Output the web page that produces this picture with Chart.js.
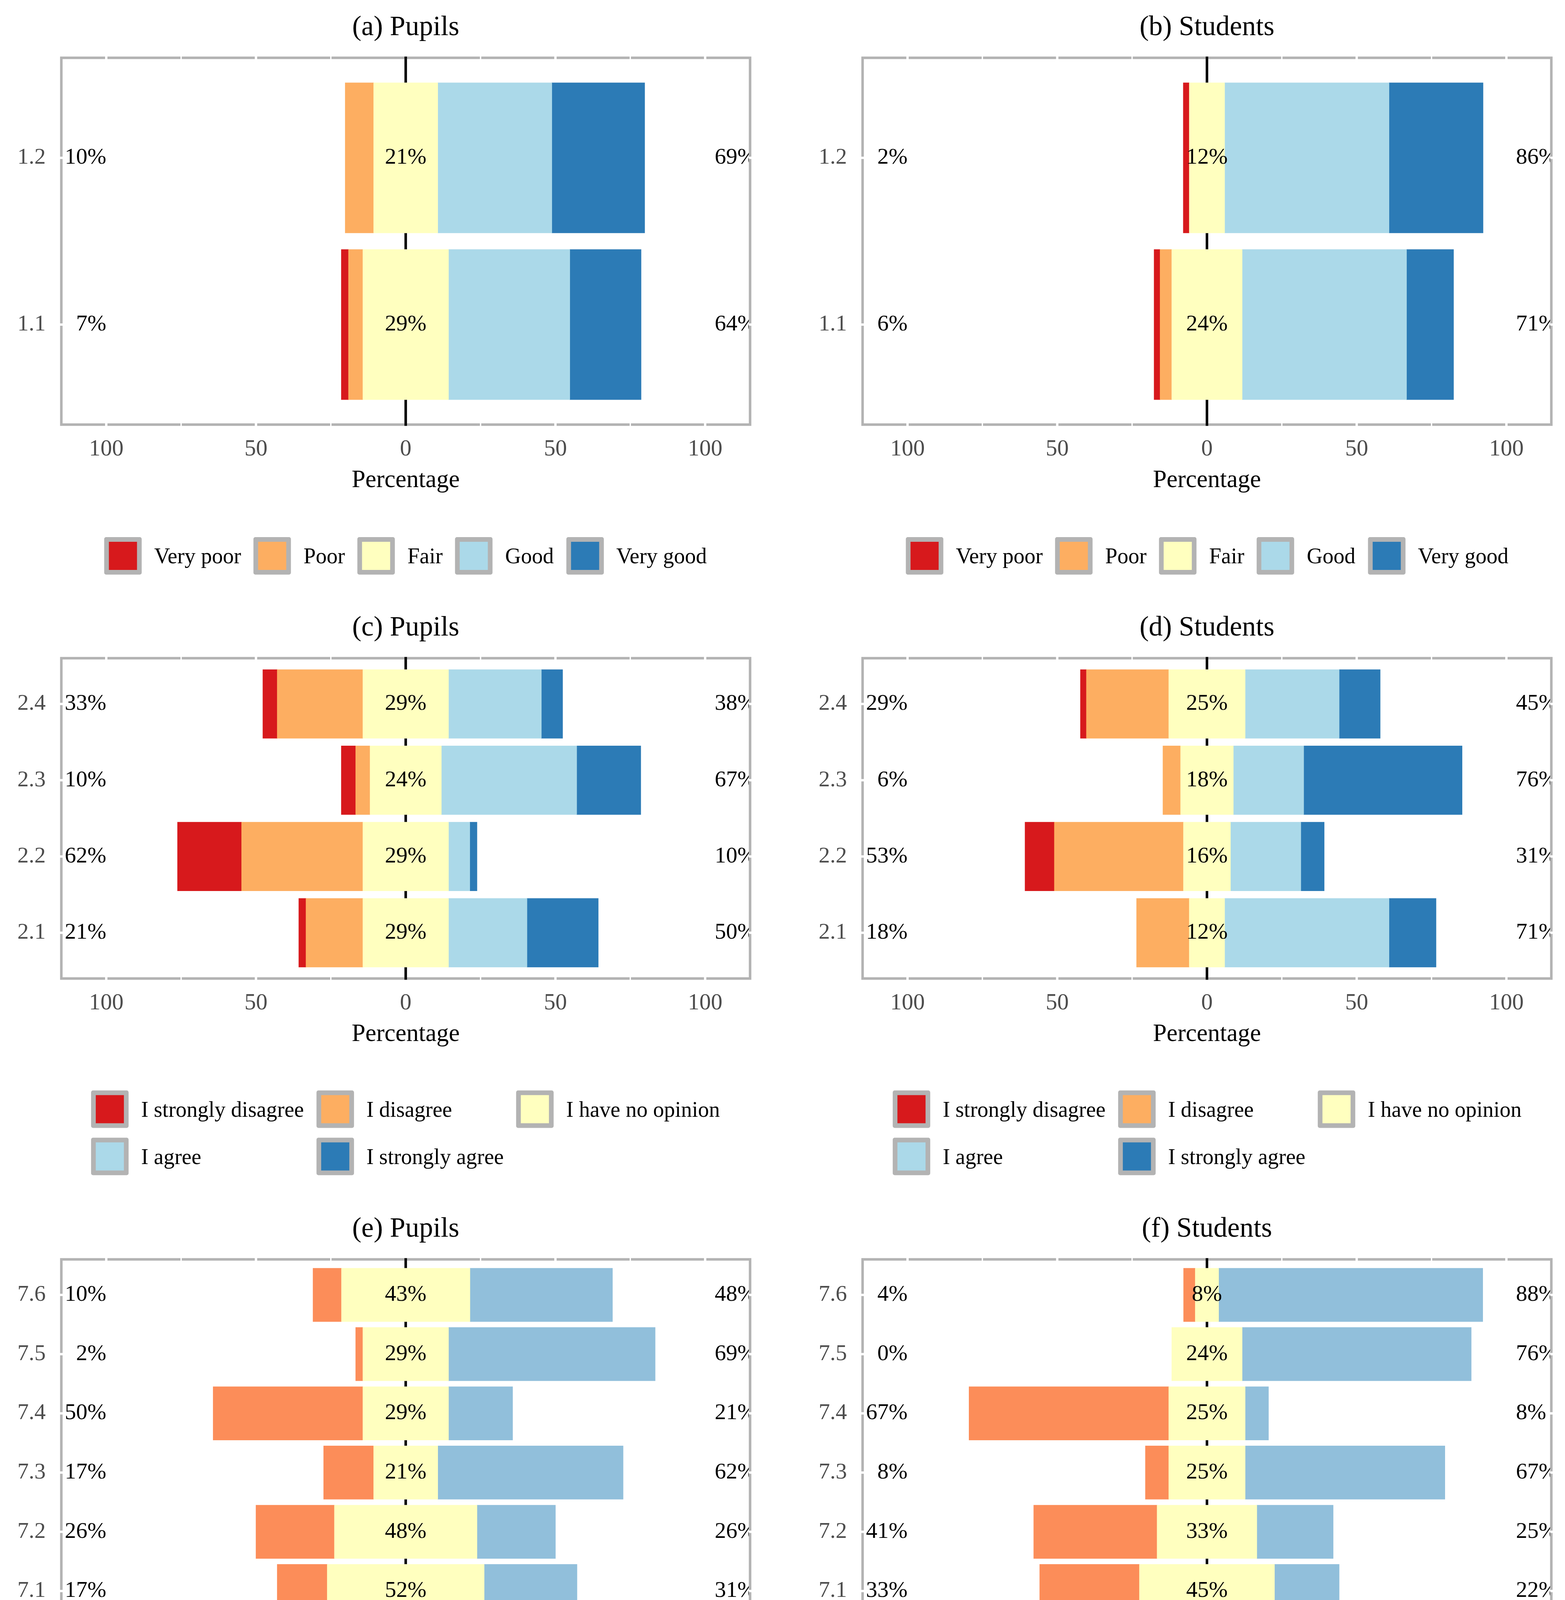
<!DOCTYPE html>
<html>
<head>
<meta charset="utf-8">
<title>Likert panels</title>
<script src="https://cdn.jsdelivr.net/npm/chart.js@4.4.1/dist/chart.umd.min.js"></script>
<style>
  html, body { margin: 0; padding: 0; background: #fff; overflow: hidden; }
  body { width: 4006px; height: 4596px; position: relative; font-family: "Liberation Serif", "Times New Roman", serif; }
  canvas { position: absolute; }
  .legend { position: absolute; transform: translate(-50%, -50%); display: grid; column-gap: 32px; row-gap: 25px; align-items: center; }
  .item { display: flex; align-items: center; white-space: nowrap; }
  .key { width: 96px; height: 96px; box-sizing: border-box; border: 12px solid #B3B3B3; border-radius: 5px; margin-right: 32px; }
  .item span { font-size: 56px; line-height: 1; color: #000; }
</style>
</head>
<body>
<script>
// ---- data (percent of respondents, categories listed bottom -> top) ----
const Q1_CATS = ['1.1', '1.2'];
const Q2_CATS = ['2.1', '2.2', '2.3', '2.4'];
const Q7_CATS = ['7.1', '7.2', '7.3', '7.4', '7.5', '7.6'];

const FIVE_RATING = ['Very poor', 'Poor', 'Fair', 'Good', 'Very good'];
const FIVE_AGREE = ['I strongly disagree', 'I disagree', 'I have no opinion', 'I agree', 'I strongly agree'];
const THREE_AGREE = ['I disagree', 'I have no opinion', 'I agree'];

const FIVE_COLORS = ['#D7191C', '#FDAE61', '#FFFFBF', '#ABD9E9', '#2C7BB6'];
const THREE_COLORS = ['#FC8D59', '#FFFFBF', '#91BFDB'];

// (a) Pupils
const A_VERY_POOR = [2.4, 0];
const A_POOR = [4.8, 9.5];
const A_FAIR = [28.6, 21.4];
const A_GOOD = [40.5, 38.1];
const A_VERY_GOOD = [23.8, 31.0];
const A_LOW = ['7%', '10%'];
const A_MID = ['29%', '21%'];
const A_HIGH = ['64%', '69%'];

// (b) Students
const B_VERY_POOR = [2.0, 2.0];
const B_POOR = [3.9, 0];
const B_FAIR = [23.5, 11.8];
const B_GOOD = [54.9, 54.9];
const B_VERY_GOOD = [15.7, 31.4];
const B_LOW = ['6%', '2%'];
const B_MID = ['24%', '12%'];
const B_HIGH = ['71%', '86%'];

// (c) Pupils
const C_STRONG_DIS = [2.4, 21.4, 4.8, 4.8];
const C_DIS = [19.0, 40.5, 4.8, 28.6];
const C_NEUTRAL = [28.6, 28.6, 23.8, 28.6];
const C_AGREE = [26.2, 7.1, 45.2, 31.0];
const C_STRONG_AGREE = [23.8, 2.4, 21.4, 7.1];
const C_LOW = ['21%', '62%', '10%', '33%'];
const C_MID = ['29%', '29%', '24%', '29%'];
const C_HIGH = ['50%', '10%', '67%', '38%'];

// (d) Students
const D_STRONG_DIS = [0, 9.8, 0, 2.0];
const D_DIS = [17.6, 43.1, 5.9, 27.5];
const D_NEUTRAL = [11.8, 15.7, 17.6, 25.5];
const D_AGREE = [54.9, 23.5, 23.5, 31.4];
const D_STRONG_AGREE = [15.7, 7.8, 52.9, 13.7];
const D_LOW = ['18%', '53%', '6%', '29%'];
const D_MID = ['12%', '16%', '18%', '25%'];
const D_HIGH = ['71%', '31%', '76%', '45%'];

// (e) Pupils
const E_DIS = [16.7, 26.2, 16.7, 50.0, 2.4, 9.5];
const E_NEUTRAL = [52.4, 47.6, 21.4, 28.6, 28.6, 42.9];
const E_AGREE = [31.0, 26.2, 61.9, 21.4, 69.0, 47.6];
const E_LOW = ['17%', '26%', '17%', '50%', '2%', '10%'];
const E_MID = ['52%', '48%', '21%', '29%', '29%', '43%'];
const E_HIGH = ['31%', '26%', '62%', '21%', '69%', '48%'];

// (f) Students
const F_DIS = [33.3, 41.2, 7.8, 66.7, 0, 3.9];
const F_NEUTRAL = [45.1, 33.3, 25.5, 25.5, 23.5, 7.8];
const F_AGREE = [21.6, 25.5, 66.7, 7.8, 76.5, 88.2];
const F_LOW = ['33%', '41%', '8%', '67%', '0%', '4%'];
const F_MID = ['45%', '33%', '25%', '25%', '24%', '8%'];
const F_HIGH = ['22%', '25%', '67%', '8%', '76%', '88%'];

const X_TICKS = [-100, -50, 0, 50, 100];
const GRID_BREAKS = [-100, -75, -50, -25, 0, 25, 50, 75, 100];

// ---- layout ----
const FONT = '"Liberation Serif", "Times New Roman", serif';
const COLS = [
  { left: 0, width: 2003, axisW: 157, padRight: 83, cx: 1038 },
  { left: 2003, width: 2003, axisW: 205, padRight: 35, cx: 3090 }
];
const ROWS = [
  { top: 0, padTop: 148, plotH: 939, legendY: 1423 },
  { top: 1540, padTop: 145, plotH: 820, legendY: 2900 },
  { top: 3080, padTop: 144, plotH: 940, legendY: 4502 }
];
const X_AXIS_H = 181;

const PANELS = [
  { title: '(a) Pupils', col: 0, row: 0, cats: Q1_CATS, series: [A_VERY_POOR, A_POOR, A_FAIR, A_GOOD, A_VERY_GOOD],
    colors: FIVE_COLORS, names: FIVE_RATING, legendCols: 5, low: A_LOW, mid: A_MID, high: A_HIGH },
  { title: '(b) Students', col: 1, row: 0, cats: Q1_CATS, series: [B_VERY_POOR, B_POOR, B_FAIR, B_GOOD, B_VERY_GOOD],
    colors: FIVE_COLORS, names: FIVE_RATING, legendCols: 5, low: B_LOW, mid: B_MID, high: B_HIGH },
  { title: '(c) Pupils', col: 0, row: 1, cats: Q2_CATS, series: [C_STRONG_DIS, C_DIS, C_NEUTRAL, C_AGREE, C_STRONG_AGREE],
    colors: FIVE_COLORS, names: FIVE_AGREE, legendCols: 3, low: C_LOW, mid: C_MID, high: C_HIGH },
  { title: '(d) Students', col: 1, row: 1, cats: Q2_CATS, series: [D_STRONG_DIS, D_DIS, D_NEUTRAL, D_AGREE, D_STRONG_AGREE],
    colors: FIVE_COLORS, names: FIVE_AGREE, legendCols: 3, low: D_LOW, mid: D_MID, high: D_HIGH },
  { title: '(e) Pupils', col: 0, row: 2, cats: Q7_CATS, series: [E_DIS, E_NEUTRAL, E_AGREE],
    colors: THREE_COLORS, names: THREE_AGREE, legendCols: 3, low: E_LOW, mid: E_MID, high: E_HIGH },
  { title: '(f) Students', col: 1, row: 2, cats: Q7_CATS, series: [F_DIS, F_NEUTRAL, F_AGREE],
    colors: THREE_COLORS, names: THREE_AGREE, legendCols: 3, low: F_LOW, mid: F_MID, high: F_HIGH }
];

/**
 * Diverging stack: the neutral level is split in two halves around zero,
 * lower levels stack to the left, higher levels to the right.
 */
function buildDatasets(series, colors) {
  const mid = (series.length - 1) / 2;
  const points = (vals, sign, scale) => vals.map((v, i) => ({ x: v === 0 ? null : sign * v * scale, y: i + 1 }));
  const sets = [];
  sets.push({ data: points(series[mid], -1, 0.5), backgroundColor: colors[mid] });
  for (let k = mid - 1; k >= 0; k--) sets.push({ data: points(series[k], -1, 1), backgroundColor: colors[k] });
  sets.push({ data: points(series[mid], 1, 0.5), backgroundColor: colors[mid] });
  for (let k = mid + 1; k < series.length; k++) sets.push({ data: points(series[k], 1, 1), backgroundColor: colors[k] });
  return sets;
}

/**
 * Panel border with white grid breaks, zero line, percentage labels and title
 */
function makeDecor(p) {
  return {
    id: 'likertDecor',
    beforeDatasetsDraw(chart) {
      const { ctx, chartArea: a, scales: { x, y } } = chart;
      ctx.save();
      ctx.strokeStyle = '#B3B3B3';
      ctx.lineWidth = 6.5;
      ctx.strokeRect(a.left, a.top, a.right - a.left, a.bottom - a.top);
      // white grid lines only show where they cross the border
      ctx.fillStyle = '#fff';
      GRID_BREAKS.forEach(v => {
        const px = x.getPixelForValue(v);
        const w = v % 50 === 0 ? 6 : 3.3;
        ctx.fillRect(px - w / 2, a.top - 4, w, 8);
        ctx.fillRect(px - w / 2, a.bottom - 4, w, 8);
      });
      p.cats.forEach((c, i) => {
        const py = y.getPixelForValue(i + 1);
        ctx.fillRect(a.left - 4, py - 3, 8, 6);
        ctx.fillRect(a.right - 4, py - 3, 8, 6);
      });
      // zero line
      const zx = x.getPixelForValue(0);
      ctx.strokeStyle = '#000';
      ctx.lineWidth = 6.5;
      ctx.beginPath();
      ctx.moveTo(zx, a.top - 3.25);
      ctx.lineTo(zx, a.bottom + 3.25);
      ctx.stroke();
      ctx.restore();
    },
    afterDatasetsDraw(chart) {
      const { ctx, chartArea: a, scales: { x, y } } = chart;
      ctx.save();
      ctx.beginPath();
      ctx.rect(a.left + 3.25, a.top + 3.25, a.right - a.left - 6.5, a.bottom - a.top - 6.5);
      ctx.clip();
      ctx.fillStyle = '#000';
      ctx.font = '58px ' + FONT;
      ctx.textBaseline = 'middle';
      p.cats.forEach((c, i) => {
        const py = y.getPixelForValue(i + 1);
        ctx.textAlign = 'right';
        ctx.fillText(p.low[i], x.getPixelForValue(-100), py);
        ctx.textAlign = 'center';
        ctx.fillText(p.mid[i], x.getPixelForValue(0), py);
        ctx.textAlign = 'left';
        ctx.fillText(p.high[i], x.getPixelForValue(103.2), py);
      });
      ctx.restore();

      ctx.save();
      ctx.fillStyle = '#000';
      ctx.font = '71px ' + FONT;
      ctx.textAlign = 'center';
      ctx.textBaseline = 'alphabetic';
      ctx.fillText(p.title, (a.left + a.right) / 2, a.top - 58);
      ctx.restore();
    }
  };
}

function buildLegend(p, cx, cy) {
  const box = document.createElement('div');
  box.className = 'legend';
  box.style.gridTemplateColumns = `repeat(${p.legendCols}, auto)`;
  box.style.left = cx + 'px';
  box.style.top = cy + 'px';
  p.names.forEach((name, i) => {
    const item = document.createElement('div');
    item.className = 'item';
    const key = document.createElement('div');
    key.className = 'key';
    key.style.background = p.colors[i];
    const txt = document.createElement('span');
    txt.textContent = name;
    item.appendChild(key);
    item.appendChild(txt);
    box.appendChild(item);
  });
  document.body.appendChild(box);
}

function buildPanel(p) {
  const col = COLS[p.col];
  const row = ROWS[p.row];
  const h = row.padTop + row.plotH + X_AXIS_H;
  const canvas = document.createElement('canvas');
  canvas.width = col.width;
  canvas.height = h;
  canvas.style.left = col.left + 'px';
  canvas.style.top = row.top + 'px';
  canvas.style.width = col.width + 'px';
  canvas.style.height = h + 'px';
  document.body.appendChild(canvas);

  new Chart(canvas.getContext('2d'), {
    type: 'bar',
    data: { datasets: buildDatasets(p.series, p.colors) },
    options: {
      responsive: false,
      animation: false,
      devicePixelRatio: 1,
      indexAxis: 'y',
      layout: { padding: { top: row.padTop, right: col.padRight, bottom: 0, left: 0 } },
      datasets: {
        bar: { barPercentage: 0.9, categoryPercentage: 1, borderWidth: 0, inflateAmount: 0.5 }
      },
      plugins: {
        legend: { display: false },
        tooltip: { enabled: false },
        title: { display: false }
      },
      scales: {
        x: {
          type: 'linear',
          stacked: true,
          offset: false,
          min: -115,
          max: 115,
          grid: { display: false, drawTicks: false },
          border: { display: false },
          afterBuildTicks: s => { s.ticks = X_TICKS.map(v => ({ value: v })); },
          ticks: {
            autoSkip: false,
            maxRotation: 0,
            padding: 28,
            color: '#4D4D4D',
            font: { family: FONT, size: 59 },
            callback: v => Math.abs(v)
          },
          title: {
            display: true,
            text: 'Percentage',
            color: '#000',
            padding: 0,
            font: { family: FONT, size: 63, lineHeight: 1.2 }
          },
          afterFit: s => { s.height = X_AXIS_H; }
        },
        y: {
          type: 'linear',
          stacked: true,
          offset: false,
          min: 0.4,
          max: p.cats.length + 0.6,
          grid: { display: false, drawTicks: false, offset: false },
          border: { display: false },
          afterBuildTicks: s => { s.ticks = p.cats.map((c, i) => ({ value: i + 1 })); },
          ticks: {
            autoSkip: false,
            padding: 40,
            color: '#4D4D4D',
            font: { family: FONT, size: 58 },
            callback: v => p.cats[Math.round(v) - 1] || ''
          },
          afterFit: s => { s.width = col.axisW; }
        }
      }
    },
    plugins: [makeDecor(p)]
  });

  buildLegend(p, col.cx, row.legendY);
}

PANELS.forEach(buildPanel);
</script>
</body>
</html>
